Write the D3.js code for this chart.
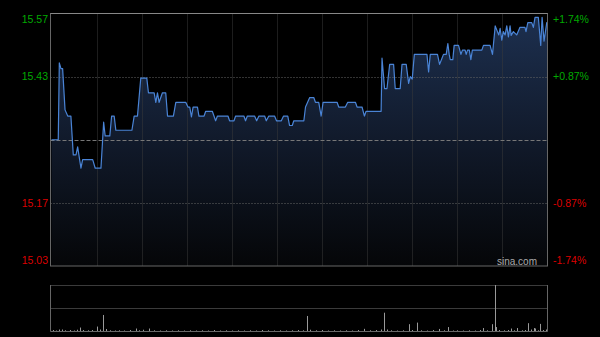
<!DOCTYPE html>
<html>
<head>
<meta charset="utf-8">
<script src="https://cdn.jsdelivr.net/npm/d3@7"></script>
<style>
html,body{margin:0;padding:0;background:#000;}
svg{display:block;}
text{font-family:Arial,"Liberation Sans",sans-serif;}
</style>
</head>
<body>
<svg id="chart" width="600" height="337"></svg>
<script>
// ---- data ----
const prevClose = 15.30;
const maxPct = 1.74;
const pctTicks = [1.74, 0.87, -0.87, -1.74];
const priceTickLabels = ["15.57", "15.43", "15.17", "15.03"];
const pctTickLabels = ["+1.74%", "+0.87%", "-0.87%", "-1.74%"];
const gridMinutes = [30, 60, 90, 120, 150, 180, 210, 240, 270, 300];
const totalMinutes = 330;

const minutes = [0,4.5,5.2,6.3,7.4,9,10.8,12.9,14.5,16.3,17.4,19.6,20.7,27.4,29.1,32.9,34.7,35.7,38.8,40,41.7,42.8,53.5,55,57.2,59.4,63.4,64.5,68.3,69.4,70.5,71.6,73.8,76,77.2,81.1,82.7,89.3,90.8,92,93.1,94.2,97.1,98.1,101.5,102.6,107,108.1,109.2,110.4,117.4,118.5,121.4,122.5,128,129.1,130.3,135.1,136.5,138,141.8,142.9,144.6,148.4,149.7,152.9,154.4,157.2,158.4,160.2,161.2,167.9,169,171.8,174.5,175.6,177.8,179.4,180.7,190,191.1,195.5,197.1,202.2,203.3,206.6,208.2,209.3,219.3,219.9,221.6,223.2,225,227.6,228.7,232,233.2,236,237.6,238.7,240,241.4,249.8,250.9,252,256.8,258.2,259.8,260.8,262.6,263.7,264.6,265.3,267,267.9,270.8,272.4,273.4,275.2,275.9,276.8,278,279,280,286.3,287.4,291.8,293.4,295.2,296.7,297.6,298.5,299.6,300.6,301.8,302.9,304,305.1,305.8,307.3,309.5,311.7,315,315.7,316.9,319.5,320.6,321.7,323.9,325.5,326.4,327.7,329.5,330];
const prices = [15.300,15.300,15.462,15.450,15.450,15.363,15.350,15.350,15.268,15.268,15.285,15.240,15.258,15.258,15.240,15.240,15.337,15.308,15.308,15.350,15.350,15.320,15.320,15.350,15.350,15.430,15.430,15.399,15.399,15.379,15.399,15.379,15.399,15.399,15.350,15.350,15.379,15.379,15.369,15.369,15.348,15.369,15.369,15.350,15.350,15.360,15.360,15.350,15.340,15.350,15.350,15.340,15.340,15.350,15.350,15.340,15.350,15.350,15.340,15.350,15.350,15.340,15.350,15.350,15.340,15.340,15.350,15.350,15.330,15.330,15.340,15.340,15.369,15.389,15.389,15.379,15.379,15.350,15.379,15.379,15.369,15.369,15.379,15.379,15.369,15.369,15.350,15.360,15.360,15.472,15.408,15.408,15.459,15.459,15.408,15.408,15.459,15.459,15.419,15.433,15.428,15.480,15.480,15.443,15.480,15.480,15.459,15.472,15.480,15.480,15.503,15.480,15.469,15.469,15.499,15.499,15.480,15.489,15.489,15.480,15.489,15.489,15.469,15.489,15.489,15.499,15.499,15.480,15.540,15.528,15.521,15.535,15.510,15.528,15.521,15.540,15.517,15.540,15.520,15.528,15.521,15.537,15.537,15.528,15.547,15.547,15.537,15.558,15.558,15.499,15.558,15.508,15.547,15.547];

const volMinutes = [1,3,5,7,9,12,15,17,19,21,24,27,30,32,34,36,39,42,45,48,52,56,58,61,65,68,72,76,80,84,88,92,96,100,104,108,112,116,120,124,128,132,136,140,144,148,152,156,160,164,167,170,172,176,180,184,188,192,196,200,204,208,212,216,219,221,223,226,230,234,238,240,243,246,250,254,258,261,264,267,270,274,278,282,285,287,290,293,295,296,298,301,304,306,308,310,313,315,317,319,321,322,324,325,327,329];
const volumes = [15,10,20,20,12,15,10,18,40,15,12,15,50,20,167,25,12,10,12,10,15,30,12,18,30,12,10,12,10,12,10,12,10,12,10,15,10,12,10,12,10,12,10,15,12,10,12,10,12,15,12,157,18,12,15,10,12,10,12,10,15,27,12,15,20,190,20,12,10,12,74,15,90,12,10,15,26,12,45,10,12,10,12,10,15,35,12,74,470,45,15,12,15,30,12,35,12,15,84,20,35,30,12,77,15,20];

// ---- layout ----
const svg = d3.select("#chart");
const L = 50.5, R = 547.5, T = 13.5, B = 266;
const VT = 285, VB = 331.5;

const x = d3.scaleLinear().domain([0, totalMinutes]).range([L + 1, R]);
const y = d3.scaleLinear()
  .domain([prevClose * (1 - maxPct / 100), prevClose * (1 + maxPct / 100)])
  .range([B, T]);
const yv = d3.scaleLinear().domain([0, d3.max(volumes)]).range([VB, VT]);

const pts = minutes.map((m, i) => [m, prices[i]]);

// gradient
const defs = svg.append("defs");
const grad = defs.append("linearGradient").attr("id", "ag")
  .attr("gradientUnits", "userSpaceOnUse")
  .attr("x1", 0).attr("y1", T).attr("x2", 0).attr("y2", B);
grad.append("stop").attr("offset", "0%").attr("stop-color", "#1d3050");
grad.append("stop").attr("offset", "50%").attr("stop-color", "#111a2b");
grad.append("stop").attr("offset", "100%").attr("stop-color", "#050608");

// area
svg.append("path").datum(pts)
  .attr("fill", "url(#ag)")
  .attr("d", d3.area().x(d => x(d[0])).y0(B).y1(d => y(d[1])));

// vertical grid
svg.append("g").selectAll("line").data(gridMinutes).join("line")
  .attr("x1", d => Math.round(x(d)) + 0.5).attr("x2", d => Math.round(x(d)) + 0.5)
  .attr("y1", T).attr("y2", B)
  .attr("stroke", "#3a3a3a").attr("stroke-dasharray", "1,1");

// horizontal grid at +-0.87%
svg.append("g").selectAll("line").data([0.87, -0.87]).join("line")
  .attr("x1", L).attr("x2", R)
  .attr("y1", d => Math.round(y(prevClose * (1 + d / 100))) + 0.5)
  .attr("y2", d => Math.round(y(prevClose * (1 + d / 100))) + 0.5)
  .attr("stroke", "#666").attr("stroke-dasharray", "1,2");

// prev close line
svg.append("line")
  .attr("x1", L).attr("x2", R)
  .attr("y1", Math.round(y(prevClose)) + 0.5).attr("y2", Math.round(y(prevClose)) + 0.5)
  .attr("stroke", "#777").attr("stroke-dasharray", "4,2");

// price line
svg.append("path").datum(pts)
  .attr("fill", "none").attr("stroke", "#4a84d6").attr("stroke-width", 1.2)
  .attr("stroke-linejoin", "round")
  .attr("d", d3.line().x(d => x(d[0])).y(d => y(d[1])));

// border main
svg.append("rect").attr("x", L).attr("y", T).attr("width", R - L).attr("height", B - T)
  .attr("fill", "none").attr("stroke", "#666");
svg.append("line").attr("x1", L).attr("x2", R).attr("y1", T).attr("y2", T).attr("stroke", "#888");

// tick labels
function labelY(p) {
  const v = y(prevClose * (1 + p / 100));
  return Math.min(Math.max(v, T + 5.5), B - 6);
}
const gL = svg.append("g");
gL.selectAll("text").data(pctTicks).join("text")
  .attr("x", 48).attr("y", d => labelY(d)).attr("dy", "0.35em")
  .attr("text-anchor", "end").attr("font-size", 10.5)
  .attr("fill", d => d > 0 ? "#0a0" : "#d00")
  .text((d, i) => priceTickLabels[i]);
const gR = svg.append("g");
gR.selectAll("text").data(pctTicks).join("text")
  .attr("x", 553).attr("y", d => labelY(d)).attr("dy", "0.35em")
  .attr("text-anchor", "start").attr("font-size", 10.5)
  .attr("fill", d => d > 0 ? "#0a0" : "#d00")
  .text((d, i) => pctTickLabels[i]);

svg.append("text").attr("x", 537).attr("y", 261).attr("dy", "0.35em")
  .attr("text-anchor", "end").attr("font-size", 10).attr("fill", "#aaa")
  .text("sina.com");

// volume panel
svg.append("line").attr("x1", L).attr("x2", R).attr("y1", VT + 0.5).attr("y2", VT + 0.5)
  .attr("stroke", "#777").attr("stroke-dasharray", "1,1");
svg.append("line").attr("x1", L).attr("x2", R).attr("y1", Math.round((VT + VB) / 2) + 0.5).attr("y2", Math.round((VT + VB) / 2) + 0.5)
  .attr("stroke", "#777").attr("stroke-dasharray", "1,1");

svg.append("g").selectAll("rect").data(volMinutes).join("rect")
  .attr("x", d => Math.round(x(d)))
  .attr("width", 1)
  .attr("y", (d, i) => yv(volumes[i]))
  .attr("height", (d, i) => VB - yv(volumes[i]))
  .attr("fill", "#999");

svg.append("path")
  .attr("d", `M${L},${VT}V${VB}H${R}V${VT}`)
  .attr("fill", "none").attr("stroke", "#666");
</script>
</body>
</html>
